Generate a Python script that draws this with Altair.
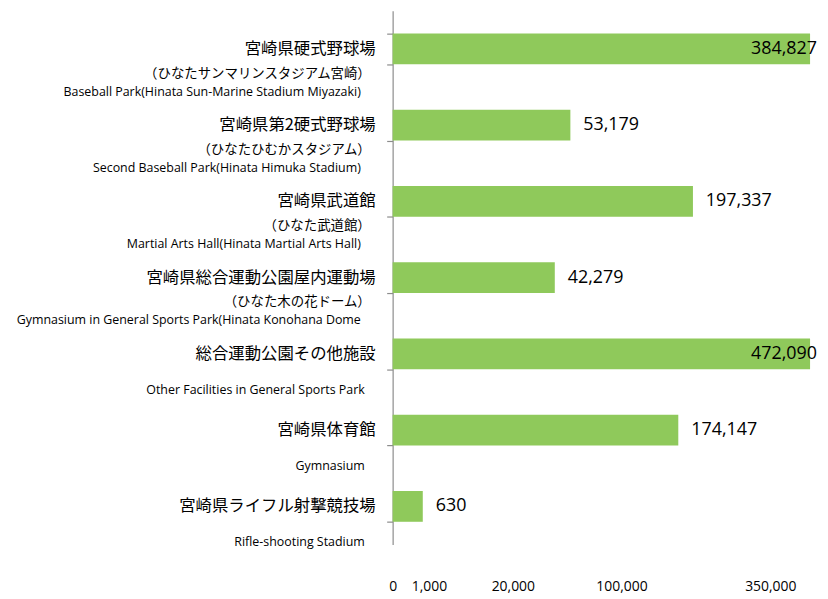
import altair as alt
import pandas as pd

names = ["宮崎県硬式野球場", "宮崎県第2硬式野球場", "宮崎県武道館", "宮崎県総合運動公園屋内運動場",
         "総合運動公園その他施設", "宮崎県体育館", "宮崎県ライフル射撃競技場"]
subs = ["（ひなたサンマリンスタジアム宮崎）", "（ひなたひむかスタジアム）", "（ひなた武道館）",
        "（ひなた木の花ドーム）", "", "", ""]
english = ["Baseball Park(Hinata Sun-Marine Stadium Miyazaki)",
           "Second Baseball Park(Hinata Himuka Stadium)",
           "Martial Arts Hall(Hinata Martial Arts Hall)",
           "Gymnasium in General Sports Park(Hinata Konohana Dome",
           "Other Facilities in General Sports Park",
           "Gymnasium",
           "Rifle-shooting Stadium"]
values = [384827, 53179, 197337, 42279, 472090, 174147, 630]
tick_values = [0, 1000, 20000, 100000, 350000]
scale_max = 380000

df = pd.DataFrame({"name": names, "sub": subs, "en": english, "value": values})

LATIN = "Open Sans, Noto Sans CJK JP, sans-serif"
CJK = "Noto Sans CJK JP, sans-serif"
GREEN = "#8fc95b"
GREY = "#8c8c8c"

yenc = alt.Y("name:N", sort=names,
             scale=alt.Scale(paddingInner=0.596, paddingOuter=0.298),
             axis=alt.Axis(title=None, labels=False, domainColor=GREY, tickColor=GREY,
                           tickSize=6, tickBand="extent", domainWidth=1.2, tickWidth=1.2))
yplain = alt.Y("name:N", sort=names)

xscale = alt.Scale(type="pow", exponent=0.40, domain=[0, 350000, scale_max],
                   range=[0, 380, 420], clamp=True, nice=False, zero=False)

bars = alt.Chart().mark_bar(color=GREEN).encode(
    x=alt.X("value:Q", scale=xscale,
            axis=alt.Axis(values=tick_values, labelExpr="format(datum.value, ',')",
                          title=None, domain=False,
                          ticks=False, grid=False, labelFontSize=14, labelPadding=35,
                          labelColor="#000", labelFont=LATIN, labelFlush=False)),
    y=yenc,
)

main_lbl = alt.Chart().mark_text(align="right", baseline="middle", font=CJK,
                                 fontSize=16.5, color="#000").encode(
    x=alt.value(-17), y=yplain, text="name:N")

sub_lbl = alt.Chart().transform_filter("datum.sub != ''").mark_text(
    align="right", baseline="middle", font=CJK, fontSize=13.5, color="#000", dy=25).encode(
    x=alt.value(-22), y=yplain, text="sub:N")

en_a = alt.Chart().transform_filter("datum.sub != ''").mark_text(
    align="right", baseline="middle", font=LATIN, fontSize=12.5, color="#000", dy=43).encode(
    x=alt.value(-32), y=yplain, text="en:N")

en_b = alt.Chart().transform_filter("datum.sub == ''").mark_text(
    align="right", baseline="middle", font=LATIN, fontSize=12.5, color="#000", dy=36).encode(
    x=alt.value(-28), y=yplain, text="en:N")

val_out = alt.Chart().transform_filter(f"datum.value < {scale_max}").mark_text(
    align="left", baseline="middle", font=LATIN, fontSize=18, color="#000", dx=13).encode(
    x=alt.X("value:Q", scale=xscale), y=yplain, text=alt.Text("value:Q", format=","))

val_in = alt.Chart().transform_filter(f"datum.value >= {scale_max}").mark_text(
    align="right", baseline="middle", font=LATIN, fontSize=18, color="#000", dx=7).encode(
    x=alt.value(420), y=yplain, text=alt.Text("value:Q", format=","))

chart = alt.layer(bars, main_lbl, sub_lbl, en_a, en_b, val_out, val_in, data=df).properties(
    width=420, height=537,
    autosize=alt.AutoSizeParams(type="none"),
    padding={"left": 387, "top": 1, "right": 10, "bottom": 48},
).configure_view(stroke=None)

chart.save("out.html", embed_options={"renderer": "svg", "actions": False})
